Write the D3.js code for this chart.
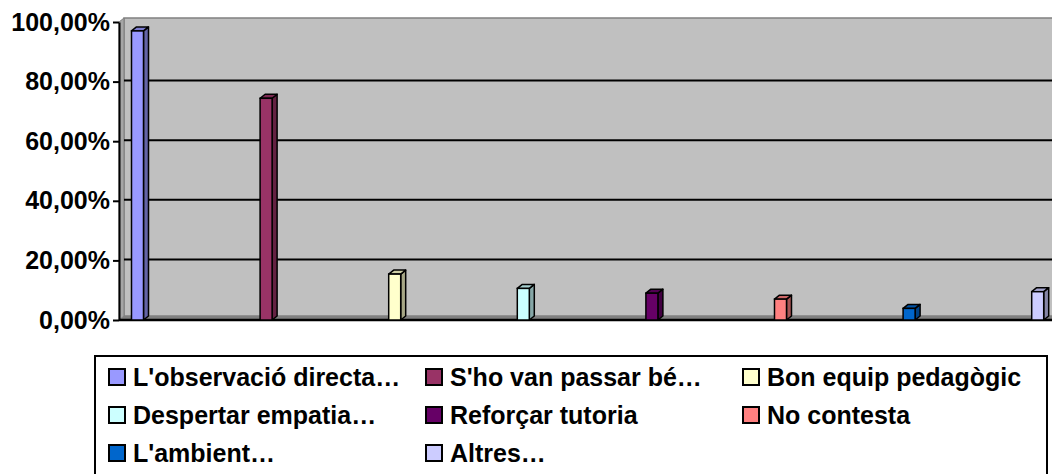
<!DOCTYPE html>
<html>
<head>
<meta charset="utf-8">
<script src="https://cdn.jsdelivr.net/npm/d3@7"></script>
<style>
  body { margin: 0; background: #fff; }
  svg { display: block; font-family: "Liberation Sans", Arial, sans-serif; font-weight: bold; }
</style>
</head>
<body>
<div id="chart"></div>
<script>
var series = ["L'observació directa…", "S'ho van passar bé…", "Bon equip pedagògic",
              "Despertar empatia…", "Reforçar tutoria", "No contesta",
              "L'ambient…", "Altres…"];
var values = [0.97, 0.744, 0.154, 0.106, 0.09, 0.07, 0.039, 0.095];
var colors = ["#9999ff", "#993366", "#ffffcc", "#ccffff", "#660066", "#ff8080", "#0066cc", "#ccccff"];
var yTicks = [0, 0.2, 0.4, 0.6, 0.8, 1];

var W = 1052, H = 474;
var svg = d3.select('#chart').append('svg').attr('width', W).attr('height', H);

var x0 = 119, y0 = 320, dx = 5, dy = 4;
var y = d3.scaleLinear().domain([0, 1]).range([y0, 22]);
var x = d3.scaleBand().domain(series).range([131.5, 1043.7]).paddingInner(0.9067).paddingOuter(0);

var locale = d3.formatLocale({decimal: ",", thousands: ".", grouping: [3], currency: ["", "€"]});
var fmt = locale.format(".2%");

// walls
svg.append('rect').attr('x', x0 + dx).attr('y', y(1) - dy)
    .attr('width', W - x0).attr('height', y0 - y(1))
    .attr('fill', '#c0c0c0').attr('stroke', '#808080').attr('stroke-width', 1.5);
svg.append('polygon')
    .attr('points', [[x0, y(1)], [x0 + dx, y(1) - dy], [x0 + dx, y0 - dy], [x0, y0]].join(' '))
    .attr('fill', '#a6a6a6').attr('stroke', '#808080');
svg.append('polygon')
    .attr('points', [[x0, y0], [x0 + dx, y0 - dy], [W, y0 - dy], [W, y0]].join(' '))
    .attr('fill', '#808080');

// gridlines on back wall
svg.append('g').selectAll('line').data(yTicks.slice(1, -1)).enter().append('line')
    .attr('x1', x0 + dx).attr('x2', W)
    .attr('y1', function(d){ return y(d) - 1; }).attr('y2', function(d){ return y(d) - 1; })
    .attr('stroke', '#000').attr('stroke-width', 2);

// axes
var ax = svg.append('g').attr('transform', 'translate(' + x0 + ',0)')
    .call(d3.axisLeft(y).tickValues(yTicks).tickFormat(fmt).tickSize(6).tickSizeOuter(0).tickPadding(3));
ax.select('.domain').attr('stroke', '#000').attr('stroke-width', 2);
ax.selectAll('.tick line').attr('stroke', '#000').attr('stroke-width', 2);
ax.selectAll('.tick text').attr('fill', '#000').attr('font-size', 25).attr('font-weight', 'bold')
    .attr('font-family', '"Liberation Sans", Arial, sans-serif');

svg.append('line').attr('x1', x0).attr('x2', W).attr('y1', y0).attr('y2', y0)
    .attr('stroke', '#000').attr('stroke-width', 2.5);

// bars
var bars = svg.append('g').selectAll('g').data(series).enter().append('g');
bars.each(function(s, i){
    var g = d3.select(this);
    var bx = x(s), bw = x.bandwidth(), top = y(values[i]);
    var c = d3.color(colors[i]);
    g.append('polygon')
        .attr('points', [[bx + bw, top], [bx + bw + dx, top - dy], [bx + bw + dx, y0 - dy], [bx + bw, y0]].join(' '))
        .attr('fill', c.darker(1.2)).attr('stroke', '#000').attr('stroke-width', 1.5).attr('stroke-linejoin', 'round');
    g.append('polygon')
        .attr('points', [[bx, top], [bx + dx, top - dy], [bx + bw + dx, top - dy], [bx + bw, top]].join(' '))
        .attr('fill', c.darker(0.6)).attr('stroke', '#000').attr('stroke-width', 1.5).attr('stroke-linejoin', 'round');
    g.append('rect').attr('x', bx).attr('y', top).attr('width', bw).attr('height', y0 - top)
        .attr('fill', colors[i]).attr('stroke', '#000').attr('stroke-width', 1.5);
});

// legend
svg.append('rect').attr('x', 95).attr('y', 356).attr('width', 952).attr('height', 130)
    .attr('fill', '#fff').attr('stroke', '#000').attr('stroke-width', 2);
var colX = [109, 426, 743], rowY = [377, 415, 453];
var items = svg.append('g').selectAll('g').data(series).enter().append('g')
    .attr('transform', function(d, i){ return 'translate(' + colX[i % 3] + ',' + rowY[Math.floor(i / 3)] + ')'; });
items.append('rect').attr('x', 0).attr('y', -8).attr('width', 16).attr('height', 16)
    .attr('fill', function(d, i){ return colors[i]; }).attr('stroke', '#000').attr('stroke-width', 2);
items.append('text').attr('x', 24).attr('y', 0).attr('dy', '0.36em')
    .attr('font-size', 25).attr('fill', '#000').text(function(d){ return d; });
</script>
</body>
</html>
